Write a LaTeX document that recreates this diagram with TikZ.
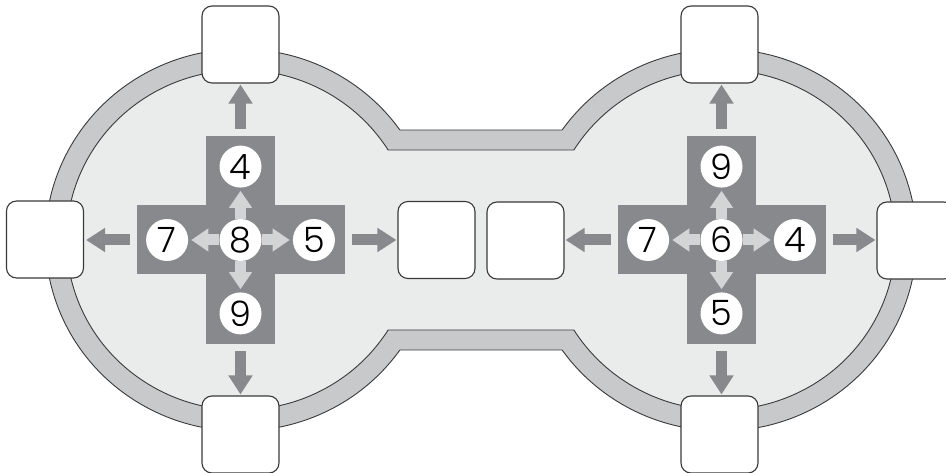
\documentclass[tikz,border=0pt]{standalone}
\usepackage{fontspec}
\setmainfont{Poppins}[UprightFont=* Light]
\usetikzlibrary{arrows.meta,calc,positioning}

\definecolor{ringgray}{HTML}{C8C9CB}
\definecolor{fieldgray}{HTML}{EAEBEB}
\definecolor{crossgray}{HTML}{88898C}
\definecolor{pathgray}{HTML}{D3D4D5}
\definecolor{edgegray}{HTML}{3A3A3A}

\tikzset{
  slot/.style={draw=edgegray, fill=white, line width=1.1pt, rounded corners=10pt,
    minimum width=77pt, minimum height=77pt},
  bar/.style={fill=crossgray, draw=white, line width=2pt},
  digit/.style={circle, fill=white, minimum size=42pt, inner sep=0pt,
    font=\fontsize{35}{35}\selectfont},
  darrow/.style={draw=crossgray, line width=11pt, -{Triangle[width=23pt,length=19pt]}},
  larrow/.style={draw=pathgray, line width=11pt, -{Triangle[width=22pt,length=17pt]}, shorten >=3pt},
}

\begin{document}
\begin{tikzpicture}[x=1pt, y=1pt, node distance=31pt]
  \useasboundingbox (0,0) rectangle (946,472);
  \coordinate (lc) at (240.5,232);
  \coordinate (rc) at (721.5,232);
  % outer ring (two ellipses joined by a band)
  \draw[fill=ringgray, draw=edgegray, line width=0.9pt]
    ($(lc)+(35.16:195pt and 191pt)$) -- ($(rc)+(144.84:195pt and 191pt)$)
    arc[start angle=144.84, end angle=-144.84, x radius=195pt, y radius=191pt]
    -- ($(lc)+(-35.16:195pt and 191pt)$)
    arc[start angle=-35.16, end angle=-324.84, x radius=195pt, y radius=191pt] -- cycle;
  % inner field
  \draw[fill=fieldgray, draw=edgegray, line width=0.9pt]
    ($(lc)+(31.97:174pt and 170pt)$) -- ($(rc)+(148.03:174pt and 170pt)$)
    arc[start angle=148.03, end angle=-148.03, x radius=174pt, y radius=170pt]
    -- ($(lc)+(-31.97:174pt and 170pt)$)
    arc[start angle=-31.97, end angle=-328.03, x radius=174pt, y radius=170pt] -- cycle;

  % left cross
  \node[bar, minimum width=67pt, minimum height=206pt] (lv) at (lc) {};
  \node[bar, minimum width=206pt, minimum height=67pt] (lh) at (lc) {};
  \fill[crossgray] (lv.south west) rectangle (lv.north east);
  \fill[crossgray] (lh.south west) rectangle (lh.north east);
  % right cross
  \node[bar, minimum width=67pt, minimum height=206pt] (rv) at (rc) {};
  \node[bar, minimum width=206pt, minimum height=67pt] (rh) at (rc) {};
  \fill[crossgray] (rv.south west) rectangle (rv.north east);
  \fill[crossgray] (rh.south west) rectangle (rh.north east);

  % left numbers
  \node[digit] (l8) at (lc) {8};
  \node[digit, above=of l8] (l4) {4};
  \node[digit, below=of l8] (l9) {9};
  \node[digit, left=of l8] (l7) {7};
  \node[digit, right=of l8] (l5) {5};
  % right numbers
  \node[digit] (r6) at (rc) {6};
  \node[digit, above=of r6] (r9) {9};
  \node[digit, below=of r6] (r5) {5};
  \node[digit, left=of r6] (r7) {7};
  \node[digit, right=of r6] (r4) {4};

  % inner arrows
  \foreach \n in {l4,l9,l7,l5} \draw[larrow] (l8) -- (\n);
  \foreach \n in {r9,r5,r7,r4} \draw[larrow] (r6) -- (\n);

  % empty boxes
  \node[slot] (lN) at (240.5,427.5) {};
  \node[slot] (lS) at (240.5,37.5) {};
  \node[slot] (lW) at (45,232.5) {};
  \node[slot] (lE) at (436.5,232) {};
  \node[slot] (rW) at (525.5,231.5) {};
  \node[slot] (rE) at (915.5,231.5) {};
  \node[slot] (rN) at (719.5,427.5) {};
  \node[slot] (rS) at (719.5,37.5) {};

  % outer arrows
  \draw[darrow] ([yshift=7pt]lv.north) -- ([yshift=-1pt]lv.north |- lN.south);
  \draw[darrow] ([yshift=-7pt]lv.south) -- ([yshift=1pt]lv.south |- lS.north);
  \draw[darrow] ([xshift=-7pt]lh.west) -- ([xshift=2pt]lW.east |- lh.west);
  \draw[darrow] ([xshift=7pt]lh.east) -- ([xshift=-1pt]lE.west |- lh.east);
  \draw[darrow] ([yshift=7pt]rv.north) -- ([yshift=-1pt]rv.north |- rN.south);
  \draw[darrow] ([yshift=-7pt]rv.south) -- ([yshift=1pt]rv.south |- rS.north);
  \draw[darrow] ([xshift=-7pt]rh.west) -- ([xshift=1pt]rW.east |- rh.west);
  \draw[darrow] ([xshift=7pt]rh.east) -- ([xshift=-1pt]rE.west |- rh.east);
\end{tikzpicture}
\end{document}
